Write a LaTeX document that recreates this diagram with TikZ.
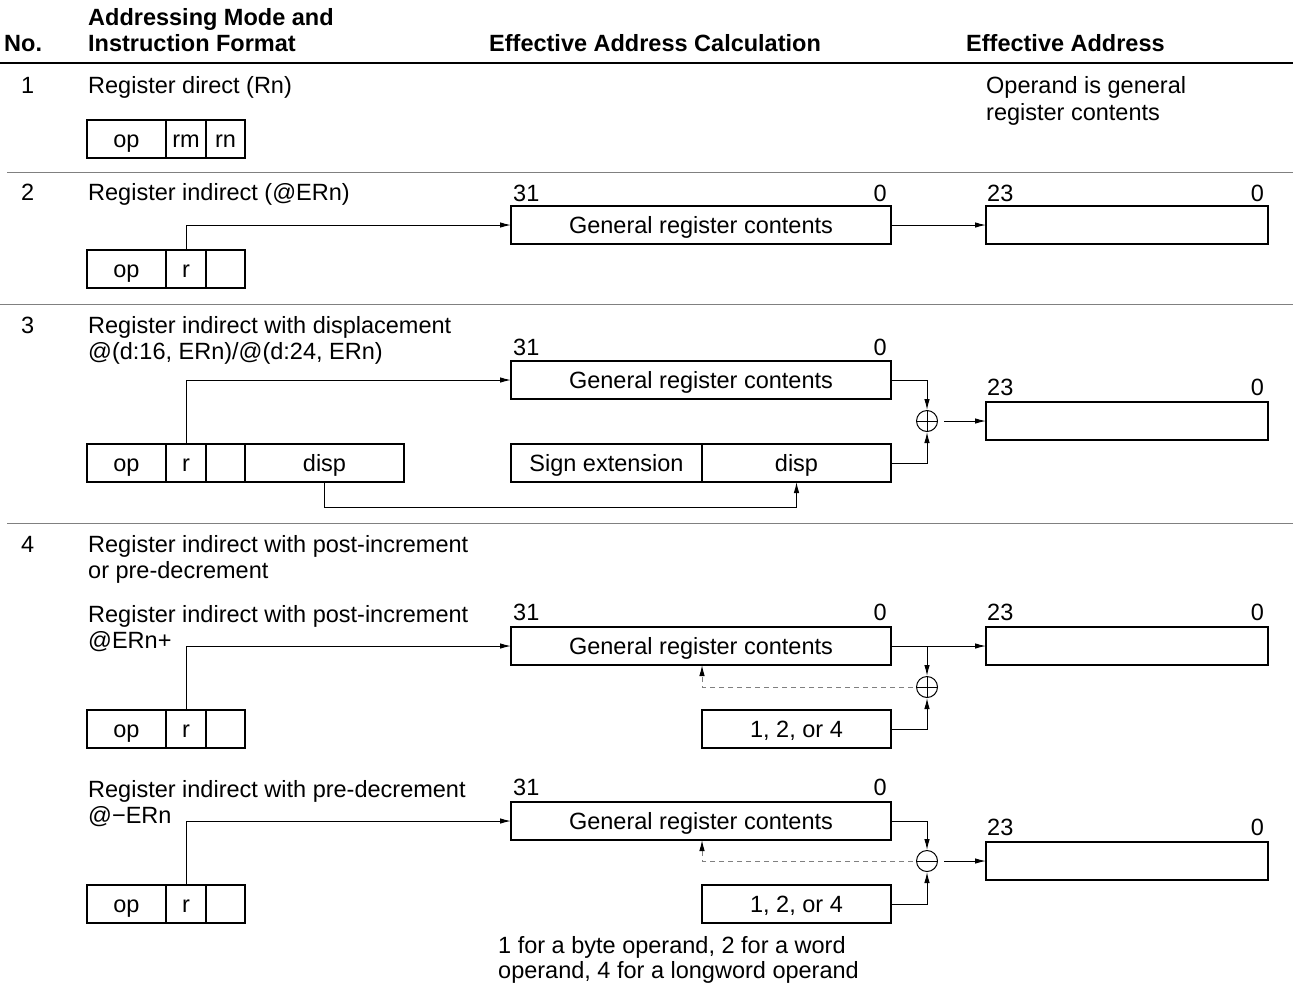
\documentclass[tikz,border=0pt]{standalone}
\usepackage{fontspec}
\setmainfont{Liberation Sans}
\usetikzlibrary{arrows.meta,positioning}

\begin{document}
\begin{tikzpicture}[x=1pt,y=-1pt,
    font=\fontsize{23.5}{26}\selectfont,
    txt/.style={inner sep=0, anchor=west, text height=17pt, text depth=0pt},
    rtxt/.style={txt, anchor=east},
    fld/.style={draw, line width=1.2pt, inner sep=0, outer sep=0,
      minimum height=38, text height=17pt, text depth=0pt},
    conn/.style={line width=1pt, -{Latex[length=11pt,width=5.5pt]}},
    dashconn/.style={line width=1pt, gray, dash pattern=on 5pt off 4pt,
      shorten <=3pt, -{Latex[length=11pt,width=5.5pt,color=black]}},
    sum/.style={circle, draw, line width=1pt, minimum size=21, inner sep=0},
    sepline/.style={line width=0.8pt, gray}]

  \useasboundingbox (0,0) rectangle (1297,986);

  % header
  \begin{scope}[every node/.style={txt, font=\fontsize{23.5}{26}\selectfont\bfseries}]
    \node (hno)   at (4,43)   {No.};
    \node (hmode) at (88,17)  {Addressing Mode and};
    \node (hfmt)  at (88,43)  {Instruction Format};
    \node (hcalc) at (489,43) {Effective Address Calculation};
    \node (hea)   at (966,43) {Effective Address};
  \end{scope}
  \draw[line width=2pt] (0,63) -- (1293,63);

  % 1: register direct
  \node[txt] (n1) at (21,85) {1};
  \node[txt] (t1) at (88,85) {Register direct (Rn)};
  \node[fld, minimum width=79, anchor=north west] (op1) at (87,120) {op};
  \node[fld, minimum width=40, right=0pt of op1] (rm1) {rm};
  \node[fld, minimum width=39, right=0pt of rm1] (rn1) {rn};
  \node[txt] (ea1a) at (986,85)  {Operand is general};
  \node[txt] (ea1b) at (986,112) {register contents};
  \draw[sepline] (7,172) -- (1293,172);

  % 2: register indirect
  \node[txt] (n2) at (21,192) {2};
  \node[txt] (t2) at (88,192) {Register indirect (@ERn)};
  \node[fld, minimum width=79, anchor=north west] (op2) at (87,250) {op};
  \node[fld, minimum width=40, right=0pt of op2] (r2) {r};
  \node[fld, minimum width=39, right=0pt of r2] (x2) {};
  \node[fld, minimum width=380, anchor=north west] (gr2) at (511,206) {General register contents};
  \node[txt]  (gr2h) at (513,193) {31};
  \node[rtxt] (gr2l) at (887,193) {0};
  \node[fld, minimum width=282, anchor=north west] (ea2) at (986,206) {};
  \node[txt]  (ea2h) at (987,193)  {23};
  \node[rtxt] (ea2l) at (1264,193) {0};
  \draw[conn] (r2.north) |- (gr2.west);
  \draw[conn] (gr2.east) -- (ea2.west);
  \draw[sepline] (0,304) -- (1293,304);

  % 3: register indirect with displacement
  \node[txt] (n3)  at (21,325) {3};
  \node[txt] (t3a) at (88,325) {Register indirect with displacement};
  \node[txt] (t3b) at (88,351) {@(d:16, ERn)/@(d:24, ERn)};
  \node[fld, minimum width=79, anchor=north west] (op3) at (87,444) {op};
  \node[fld, minimum width=40, right=0pt of op3] (r3) {r};
  \node[fld, minimum width=39, right=0pt of r3] (x3) {};
  \node[fld, minimum width=159, right=0pt of x3] (disp3) {disp};
  \node[fld, minimum width=380, anchor=north west] (gr3) at (511,361) {General register contents};
  \node[txt]  (gr3h) at (513,347) {31};
  \node[rtxt] (gr3l) at (887,347) {0};
  \node[fld, minimum width=191, anchor=north west] (sx3) at (511,444) {Sign extension};
  \node[fld, minimum width=189, right=0pt of sx3] (dsp3) {disp};
  \node[sum] (add3) at (927,421) {};
  \draw[line width=1pt] (add3.north) -- (add3.south) (add3.west) -- (add3.east);
  \node[fld, minimum width=282, anchor=north west] (ea3) at (986,402) {};
  \node[txt]  (ea3h) at (987,387)  {23};
  \node[rtxt] (ea3l) at (1264,387) {0};
  \draw[conn] (r3.north) |- (gr3.west);
  \draw[conn] (disp3.south) -- ++(0,25) -| (dsp3.south);
  \draw[conn] (gr3.east) -| (add3.north);
  \draw[conn] (dsp3.east) -| (add3.south);
  \draw[conn, shorten <=6pt] (add3.east) -- (ea3.west);
  \draw[sepline] (7,523) -- (1293,523);

  % 4: post-increment / pre-decrement
  \node[txt] (n4)  at (21,544) {4};
  \node[txt] (t4a) at (88,544) {Register indirect with post-increment};
  \node[txt] (t4b) at (88,570) {or pre-decrement};

  % 4a: post-increment
  \node[txt] (t4c) at (88,614) {Register indirect with post-increment};
  \node[txt] (t4d) at (88,640) {@ERn+};
  \node[fld, minimum width=79, anchor=north west] (op4a) at (87,710) {op};
  \node[fld, minimum width=40, right=0pt of op4a] (r4a) {r};
  \node[fld, minimum width=39, right=0pt of r4a] (x4a) {};
  \node[fld, minimum width=380, anchor=north west] (gr4a) at (511,627) {General register contents};
  \node[txt]  (gr4ah) at (513,612) {31};
  \node[rtxt] (gr4al) at (887,612) {0};
  \node[fld, minimum width=189, anchor=north west] (inc4a) at (702,710) {1, 2, or 4};
  \node[sum] (add4a) at (927,687) {};
  \draw[line width=1pt] (add4a.north) -- (add4a.south) (add4a.west) -- (add4a.east);
  \node[fld, minimum width=282, anchor=north west] (ea4a) at (986,627) {};
  \node[txt]  (ea4ah) at (987,612)  {23};
  \node[rtxt] (ea4al) at (1264,612) {0};
  \draw[conn] (r4a.north) |- (gr4a.west);
  \draw[conn] (gr4a.east) -- (ea4a.west);
  \draw[conn] (add4a |- gr4a.east) -- (add4a.north);
  \draw[conn] (inc4a.east) -| (add4a.south);
  \draw[dashconn] (add4a.west) -| (gr4a.south -| inc4a.west);

  % 4b: pre-decrement
  \node[txt] (t4e) at (88,789) {Register indirect with pre-decrement};
  \node[txt] (t4f) at (88,815) {@−ERn};
  \node[fld, minimum width=79, anchor=north west] (op4b) at (87,885) {op};
  \node[fld, minimum width=40, right=0pt of op4b] (r4b) {r};
  \node[fld, minimum width=39, right=0pt of r4b] (x4b) {};
  \node[fld, minimum width=380, anchor=north west] (gr4b) at (511,802) {General register contents};
  \node[txt]  (gr4bh) at (513,787) {31};
  \node[rtxt] (gr4bl) at (887,787) {0};
  \node[fld, minimum width=189, anchor=north west] (dec4b) at (702,885) {1, 2, or 4};
  \node[sum] (sub4b) at (927,861) {};
  \draw[line width=1pt] (sub4b.west) -- (sub4b.east);
  \node[fld, minimum width=282, anchor=north west] (ea4b) at (986,842) {};
  \node[txt]  (ea4bh) at (987,827)  {23};
  \node[rtxt] (ea4bl) at (1264,827) {0};
  \draw[conn] (r4b.north) |- (gr4b.west);
  \draw[conn] (gr4b.east) -| (sub4b.north);
  \draw[conn] (dec4b.east) -| (sub4b.south);
  \draw[dashconn] (sub4b.west) -| (gr4b.south -| dec4b.west);
  \draw[conn, shorten <=6pt] (sub4b.east) -- (ea4b.west);

  % note
  \node[txt] (nt1) at (498,945) {1 for a byte operand, 2 for a word};
  \node[txt] (nt2) at (498,970) {operand, 4 for a longword operand};

\end{tikzpicture}
\end{document}
